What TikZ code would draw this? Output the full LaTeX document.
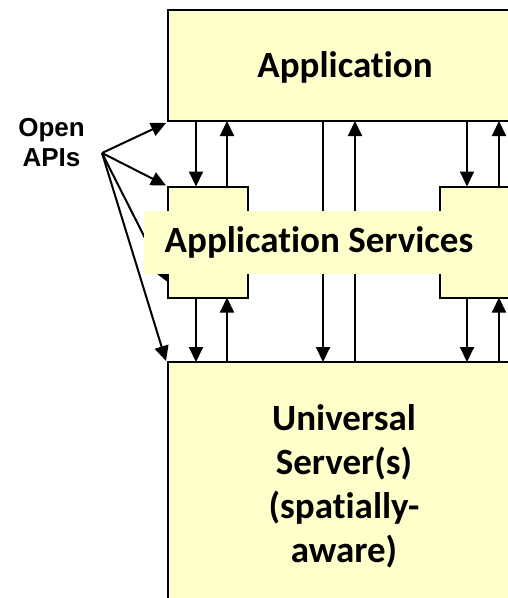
\documentclass[tikz,border=0pt]{standalone}
\usepackage{fontspec}
\setmainfont{Carlito}[Ligatures=NoCommon]
\newfontfamily\arialfont{Liberation Sans}
\usetikzlibrary{arrows.meta,calc}
\definecolor{boxyellow}{RGB}{255,255,204}
\begin{document}
\begin{tikzpicture}[x=1pt,y=-1pt,
  ybox/.style={draw=black,line width=2pt,fill=boxyellow,inner sep=0pt,outer sep=0pt,anchor=north west},
  arr/.style={line width=2pt,-{Triangle[length=15pt,width=14pt]}},
  big/.style={font=\fontsize{37}{44}\selectfont\bfseries}]
\clip (0,0) rectangle (508,598);
\fill[white] (0,0) rectangle (508,598);
% boxes
\node[ybox,minimum width=354pt,minimum height=111pt] (app) at (168,10) {};
\node[big] (apptext) at (345,67) {Application};
\node[ybox,minimum width=80pt,minimum height=111pt] (svl) at (168,186.5) {};
\node[ybox,minimum width=80pt,minimum height=111pt] (svr) at (440,186.5) {};
\node[ybox,minimum width=354pt,minimum height=290pt] (srv) at (168,362) {};
% vertical arrows
\draw[arr] (196,0 |- app.south) -- (196,0 |- svl.north);
\draw[arr] (227,0 |- svl.north) -- (227,0 |- app.south);
\draw[arr] (196,0 |- svl.south) -- (196,0 |- srv.north);
\draw[arr] (227,0 |- srv.north) -- (227,0 |- svl.south);
\draw[arr] (323,0 |- app.south) -- (323,0 |- srv.north);
\draw[arr] (355,0 |- srv.north) -- (355,0 |- app.south);
\draw[arr] (467,0 |- app.south) -- (467,0 |- svr.north);
\draw[arr] (499,0 |- svr.north) -- (499,0 |- app.south);
\draw[arr] (467,0 |- svr.south) -- (467,0 |- srv.north);
\draw[arr] (499,0 |- srv.north) -- (499,0 |- svr.south);
% open APIs
\node[font=\arialfont\fontsize{26}{30}\selectfont\bfseries,align=center,inner sep=0pt] (api) at (51.5,143) {Open\\APIs};
\coordinate (src) at (102,153);
\draw[arr] (src) -- ($(app.south west)+(-2,2)$);
\draw[arr] (src) -- ($(svl.north west)+(-2,-1)$);
\draw[arr] (src) -- ($(svl.south west)+(-1,-16)$);
\draw[arr] (src) -- ($(srv.north west)+(-2,-1)$);
% label
\node[big,fill=boxyellow,minimum width=350pt,minimum height=63pt,inner sep=0pt] (svlabel) at (319,242) {Application Services};
\node[big,align=center,inner sep=0pt] (srvtext) at (344,486) {Universal\\Server(s)\\(spatially-\\aware)};
\end{tikzpicture}
\end{document}
